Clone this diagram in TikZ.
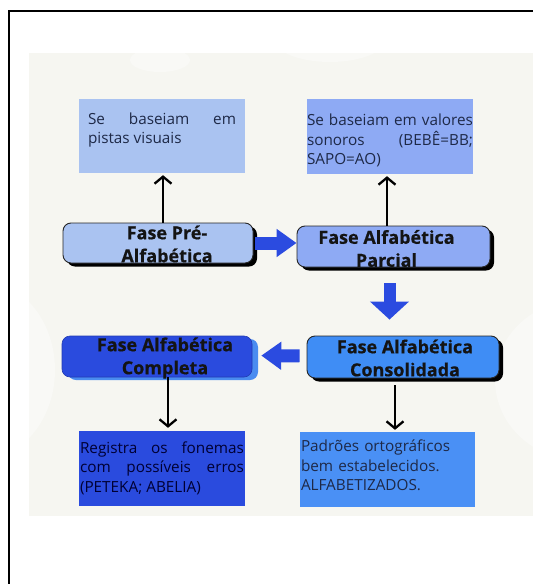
\documentclass[tikz,border=0pt]{standalone}
\usepackage{fontspec}
\setmainfont{Open Sans}
\newfontfamily\labelfont{Open Sans}[BoldFeatures={FakeBold=0.5}]
\usetikzlibrary{arrows.meta,shadows}
\definecolor{panel}{HTML}{F6F6F1}
\definecolor{panelhi}{HTML}{F9F9F6}
\definecolor{txtnavy}{HTML}{1E2947}
\definecolor{pale}{HTML}{AAC3F1}
\definecolor{mid}{HTML}{8EAAF4}
\definecolor{deep}{HTML}{2A4BDE}
\definecolor{sky}{HTML}{3F8DF5}
\definecolor{skybox}{HTML}{4A90F5}
\definecolor{arrowblue}{HTML}{2B4BE0}
\definecolor{shadowsky}{HTML}{4A8CF0}
\tikzset{
  phasebox/.style={rounded corners=8pt, draw=black!85, line width=0.9pt, inner sep=0pt},
  blackshadow/.style={drop shadow={shadow xshift=4pt, shadow yshift=-3.5pt, fill=black, opacity=1}},
  phaselabel/.style={font=\labelfont\bfseries\fontsize{18}{23}\selectfont, align=center, text=black!92, inner sep=0pt},
  infobox/.style={draw=none, inner sep=0pt},
  infotext/.style={font=\fontsize{15.3}{19.5}\selectfont, text=txtnavy, inner sep=0pt},
  thinarr/.style={line width=2.3pt, -{Straight Barb[length=7pt,width=17pt]}},
  blkarr/.style={line width=13pt, arrowblue, -{Triangle[length=20pt,width=27pt]}},
  blkdown/.style={line width=12pt, arrowblue, -{Triangle[length=18pt,width=38pt]}}
}
\begin{document}
\begin{tikzpicture}[x=1pt,y=-1pt]
\useasboundingbox (0,0) rectangle (533,584);
\fill[white] (0,0) rectangle (533,584);
\fill[panel] (29,53) rectangle (533,516);
\begin{scope}
  \clip (29,53) rectangle (533,516);
  \fill[panelhi] (-20,370) ellipse (75 and 90);
  \fill[panelhi] (580,380) ellipse (85 and 80);
  \fill[panelhi] (330,40) ellipse (55 and 22);
  \fill[panelhi] (160,60) ellipse (30 and 12);
\end{scope}
\draw[line width=2pt] (9,584) -- (9,11) -- (533,11);

% info boxes
\node[infobox, fill=pale, minimum width=166pt, minimum height=74pt,
  label={[infotext, text width=148pt, align=justify, yshift=6pt]center:Se baseiam em\linebreak pistas visuais}] (tl) at (162,136) {};
\node[infobox, fill=mid, minimum width=166pt, minimum height=75pt,
  label={[infotext, text width=166pt, align=justify, yshift=-4pt]center:Se baseiam em valores\linebreak sonoros (BEBÊ=BB;\linebreak SAPO=AO)}] (tr) at (390,136.5) {};
\node[infobox, fill=deep, minimum width=166pt, minimum height=75pt,
  label={[infotext, text width=164pt, align=justify, text=black!80!blue, yshift=0.5pt]center:Registra os fonemas\linebreak com possíveis erros\linebreak (PETEKA; ABELIA)}] (bl) at (162,468.5) {};
\node[infobox, fill=skybox, minimum width=175pt, minimum height=75pt,
  label={[infotext, text width=173pt, align=left, yshift=4pt]center:Padrões ortográficos\\ bem estabelecidos.\\ ALFABETIZADOS.}] (br) at (387.5,469.5) {};

% phase boxes
\node[phasebox, blackshadow, fill=pale, minimum width=190pt, minimum height=40pt,
  label={[phaselabel, xshift=9pt, yshift=-1pt]center:Fase Pré-\\Alfabética}] (pre) at (158,243) {};
\node[phasebox, blackshadow, fill=mid, minimum width=193pt, minimum height=41pt,
  label={[phaselabel, xshift=-7pt, yshift=-2pt]center:Fase Alfabética\\Parcial}] (par) at (393.5,246.5) {};
\node[phasebox, draw=deep!80!black, line width=0.6pt, fill=deep,
  drop shadow={shadow xshift=6pt, shadow yshift=-3pt, fill=shadowsky, opacity=1},
  minimum width=190pt, minimum height=41pt,
  label={[phaselabel, xshift=8pt, yshift=-1.5pt]center:Fase Alfabética\\Completa}] (com) at (157,356.5) {};
\node[phasebox, blackshadow, fill=sky, minimum width=192pt, minimum height=42pt,
  label={[phaselabel, xshift=2pt, yshift=-1pt]center:Fase Alfabética\\Consolidada}] (con) at (403,357) {};

% thin arrows
\draw[thinarr, shorten >=2pt] ([xshift=1pt]tl.south |- pre.north) -- ([xshift=1pt]tl.south);
\draw[thinarr, shorten >=2pt] ([xshift=-3pt]tr.south |- par.north) -- ([xshift=-3pt]tr.south);
\draw[thinarr, shorten >=3pt] ([xshift=6pt]bl.north |- com.south) -- ([xshift=6pt]bl.north);
\draw[thinarr, shorten <=7pt, shorten >=2pt] ([xshift=7.5pt]br.north |- con.south) -- ([xshift=7.5pt]br.north);

% block arrows
\draw[blkarr, shorten <=2pt] (pre.east) -- (par.west |- pre.east);
\draw[blkdown, shorten <=16pt, shorten >=16pt] ([xshift=-4pt]par.south) -- ([xshift=-4pt]par.south |- con.north);
\draw[blkarr, shorten <=7pt, shorten >=9pt] ([yshift=1pt]con.west) -- ([yshift=1pt]com.east -| com.east);
\end{tikzpicture}
\end{document}
